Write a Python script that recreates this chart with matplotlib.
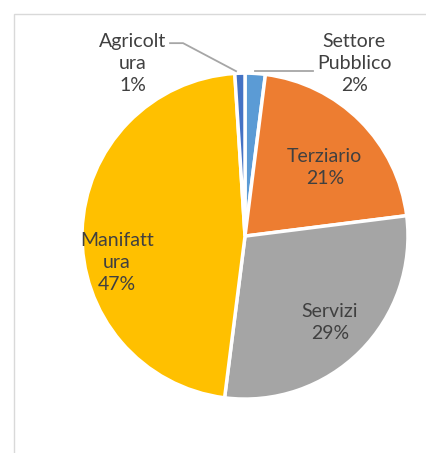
import matplotlib
matplotlib.use('Agg')

import matplotlib.pyplot as plt
from matplotlib.patches import Rectangle

# dati (ordine orario partendo dalle ore 12)
settori = ["Settore\nPubblico", "Terziario", "Servizi", "Manifatt\nura", "Agricolt\nura"]
quote = [2, 21, 29, 47, 1]
colori = ["#5B9BD5", "#ED7D31", "#A5A5A5", "#FFC000", "#4472C4"]

plt.rcParams['font.family'] = ['Lato', 'DejaVu Sans']

fig = plt.figure(figsize=(4.27, 4.53), dpi=100)
ax = fig.add_axes([0.1158, 0.047, 0.916, 0.8636])

ax.pie(
    quote,
    colors=colori,
    startangle=90,
    counterclock=False,
    radius=1.0,
    wedgeprops=dict(edgecolor="white", linewidth=2.5),
)
ax.set_xlim(-1.2, 1.2)
ax.set_ylim(-1.2, 1.2)
ax.set_aspect("equal")
ax.axis("off")

etichette = [f"{s}\n{q}%" for s, q in zip(settori, quote)]
testo = dict(ha="center", va="center", fontsize=14, color="#404040", linespacing=1.35)

# etichette interne
ax.text(0.49, 0.42, etichette[1], **testo)
ax.text(0.52, -0.53, etichette[2], **testo)
ax.text(-0.785, -0.16, etichette[3], **testo)

# etichette esterne con linee guida
ax.text(0.67, 1.06, etichette[0], **testo)
ax.plot([0.061, 0.417], [1.015, 1.015], color="#A6A6A6", lw=1.3, clip_on=False)
ax.text(-0.687, 1.061, etichette[4], **testo)
ax.plot([-0.46, -0.38, -0.055], [1.184, 1.184, 1.012], color="#A6A6A6", lw=1.3, clip_on=False)

# cornice dell'area grafico
fig.add_artist(Rectangle((14 / 427, -0.1), 1.2, 0.969 + 0.1, transform=fig.transFigure,
                         fill=False, edgecolor="#D9D9D9", lw=1.0))

plt.savefig("out.png", dpi=100)
plt.close()
